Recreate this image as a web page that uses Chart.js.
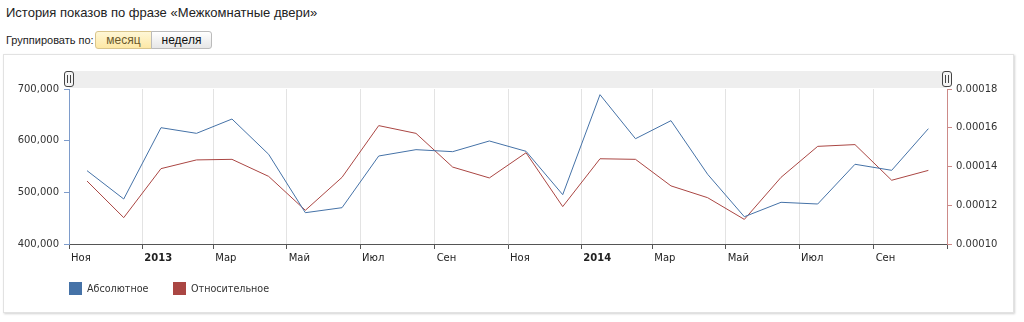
<!DOCTYPE html>
<html>
<head>
<meta charset="utf-8">
<script src="https://cdn.jsdelivr.net/npm/chart.js@4.4.1/dist/chart.umd.min.js"></script>
<style>
body { margin: 0; background: #fff; font-family: "Liberation Sans", Arial, sans-serif; color: #333; }
#title { position: absolute; left: 6px; top: 5px; font-size: 13px; color: #222; }
#group { position: absolute; left: 6px; top: 34px; font-size: 11px; color: #222; }
.btn { position: absolute; top: 31px; height: 18px; line-height: 16px; font-size: 12px; text-align: center; box-sizing: border-box; }
#b1 { left: 95px; width: 57px; border: 1px solid #d9c58c; border-radius: 3px 0 0 3px; background: linear-gradient(#fff7d6, #fde8a6); color: #6b5a2c; }
#b2 { left: 151px; width: 61px; border: 1px solid #bbb; border-radius: 0 3px 3px 0; background: linear-gradient(#fff, #e6e6e6); color: #111; }
#box { position: absolute; left: 3px; top: 54px; width: 1009px; height: 257px; border: 1px solid #e2e2e2; box-shadow: 1px 1px 2px rgba(0,0,0,0.18); background: #fff; }
#chart { position: absolute; left: 0; top: 0; }
.leg { position: absolute; top: 227px; width: 13px; height: 13px; }
.legt { position: absolute; top: 227px; font-family: "DejaVu Sans", Verdana, sans-serif; font-size: 9.6px; line-height: 13px; color: #333; }
</style>
</head>
<body>
<div id="title">История показов по фразе «Межкомнатные двери»</div>
<div id="group">Группировать по:</div>
<div class="btn" id="b1">месяц</div>
<div class="btn" id="b2">неделя</div>
<div id="box">
  <canvas id="chart" width="1009" height="257"></canvas>
  <div class="leg" style="left:65px;background:#4572A7"></div>
  <div class="legt" style="left:83px">Абсолютное</div>
  <div class="leg" style="left:169px;background:#AA4643"></div>
  <div class="legt" style="left:187px">Относительное</div>
</div>
<script>
// monthly data, Nov 2012 - Oct 2014
var months = ['2012-11','2012-12','2013-01','2013-02','2013-03','2013-04','2013-05','2013-06',
	'2013-07','2013-08','2013-09','2013-10','2013-11','2013-12','2014-01','2014-02',
	'2014-03','2014-04','2014-05','2014-06','2014-07','2014-08','2014-09','2014-10'];
var absolute = [541900, 487100, 625100, 614200, 641900, 573600, 460600, 470300,
	570300, 582600, 578700, 599400, 579400, 495500, 689000, 603800,
	638700, 534900, 452800, 480700, 477400, 554300, 542600, 623200];
var relative = [0.0001325, 0.0001136, 0.0001389, 0.0001434, 0.0001437, 0.0001349, 0.0001174, 0.0001344,
	0.0001611, 0.0001571, 0.0001397, 0.0001341, 0.0001471, 0.0001193, 0.000144, 0.0001437,
	0.00013, 0.0001239, 0.0001127, 0.0001344, 0.0001504, 0.0001513, 0.0001329, 0.000138];
var xTickMonths = ['2012-11','2013-01','2013-03','2013-05','2013-07','2013-09','2013-11',
	'2014-01','2014-03','2014-05','2014-07','2014-09','2014-11'];
var xTickLabels = ['Ноя','2013','Мар','Май','Июл','Сен','Ноя','2014','Мар','Май','Июл','Сен',''];
var leftTicks = [400000, 500000, 600000, 700000];
var rightTicks = [0.00010, 0.00012, 0.00014, 0.00016, 0.00018];

var DAY = 86400000;
function monthStart(m) {
	var p = m.split('-');
	return Date.UTC(+p[0], +p[1] - 1, 1);
}
var origin = monthStart(months[0]);
function dayOf(m, mid) {
	var s = monthStart(m);
	var d = (s - origin) / DAY;
	if (mid) {
		var p = m.split('-');
		var len = (Date.UTC(+p[0], +p[1], 1) - s) / DAY;
		d += len / 2;
	}
	return d;
}
var xEnd = dayOf(xTickMonths[xTickMonths.length - 1], false);

var absPts = [], relPts = [];
for (var i = 0; i < months.length; i++) {
	absPts.push({x: dayOf(months[i], true), y: absolute[i]});
	relPts.push({x: dayOf(months[i], true), y: relative[i]});
}

// scrollbar strip above the plot with two handles
var navBar = {
	id: 'navBar',
	beforeDraw: function(chart) {
		var ctx = chart.ctx, a = chart.chartArea;
		ctx.save();
		ctx.fillStyle = '#eeeeee';
		ctx.fillRect(a.left, a.top - 18, a.right - a.left, 17);
		ctx.restore();
	},
	afterDraw: function(chart) {
		var ctx = chart.ctx, a = chart.chartArea;
		[a.left, a.right].forEach(function(x) {
			ctx.save();
			ctx.fillStyle = '#f4f4f4';
			ctx.strokeStyle = '#444';
			ctx.lineWidth = 1;
			ctx.beginPath();
			ctx.roundRect(x - 4.5, a.top - 17.5, 9, 15, 2.5);
			ctx.fill();
			ctx.stroke();
			ctx.beginPath();
			ctx.moveTo(x - 1.5, a.top - 14); ctx.lineTo(x - 1.5, a.top - 6);
			ctx.moveTo(x + 1.5, a.top - 14); ctx.lineTo(x + 1.5, a.top - 6);
			ctx.stroke();
			ctx.restore();
		});
	}
};

var tickFont = {family: '"DejaVu Sans", Verdana, sans-serif', size: 10};

new Chart(document.getElementById('chart').getContext('2d'), {
	type: 'line',
	data: {
		datasets: [{
			label: 'Абсолютное',
			data: absPts,
			borderColor: '#4572A7',
			backgroundColor: '#4572A7',
			borderWidth: 1,
			pointRadius: 0,
			yAxisID: 'yL'
		}, {
			label: 'Относительное',
			data: relPts,
			borderColor: '#AA4643',
			backgroundColor: '#AA4643',
			borderWidth: 1,
			pointRadius: 0,
			yAxisID: 'yR'
		}]
	},
	options: {
		responsive: false,
		animation: false,
		layout: {padding: {top: 34, left: 0, right: 0, bottom: 0}},
		plugins: {legend: {display: false}, tooltip: {enabled: false}},
		scales: {
			x: {
				type: 'linear',
				min: 0,
				max: xEnd,
				afterBuildTicks: function(s) {
					s.ticks = xTickMonths.map(function(m) { return {value: dayOf(m, false)}; });
				},
				afterFit: function(s) { s.height = 68; },
				grid: {color: '#e3e3e3', tickColor: '#555', tickLength: 5, lineWidth: 1},
				border: {color: '#555', width: 1},
				ticks: {
					autoSkip: false,
					maxRotation: 0,
					align: 'start',
					labelOffset: 2,
					padding: 3,
					color: '#222',
					callback: function(v, i) { return xTickLabels[i]; },
					font: function(c) {
						var lbl = c.tick && c.tick.label;
						return {family: tickFont.family, size: 10, weight: /^\d{4}$/.test(lbl) ? 'bold' : 'normal'};
					}
				}
			},
			yL: {
				position: 'left',
				min: leftTicks[0],
				max: leftTicks[leftTicks.length - 1],
				afterBuildTicks: function(s) { s.ticks = leftTicks.map(function(v) { return {value: v}; }); },
				afterFit: function(s) { s.width = 65; },
				grid: {drawOnChartArea: false, tickLength: 5, tickColor: '#7e9ccb'},
				border: {color: '#7e9ccb', width: 1},
				ticks: {
					color: '#333',
					font: tickFont,
					padding: 5,
					callback: function(v) { return v.toLocaleString('en-US'); }
				}
			},
			yR: {
				position: 'right',
				min: rightTicks[0],
				max: rightTicks[rightTicks.length - 1],
				afterBuildTicks: function(s) { s.ticks = rightTicks.map(function(v) { return {value: v}; }); },
				afterFit: function(s) { s.width = 66; },
				grid: {drawOnChartArea: false, tickLength: 5, tickColor: '#cc8a88'},
				border: {color: '#cc8a88', width: 1},
				ticks: {
					color: '#333',
					font: tickFont,
					padding: 4,
					callback: function(v) { return v.toFixed(5); }
				}
			}
		}
	},
	plugins: [navBar]
});
</script>
</body>
</html>
